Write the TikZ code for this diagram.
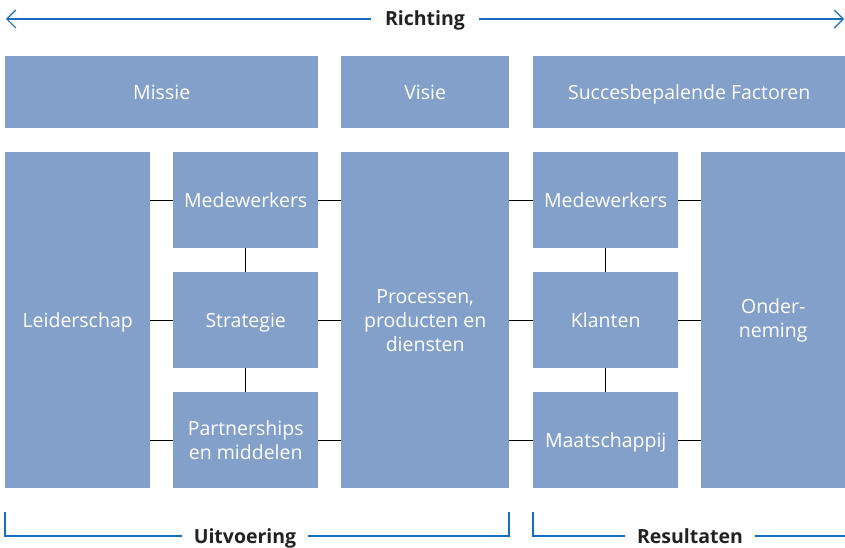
\documentclass[tikz,border=0pt]{standalone}
\usepackage{fontspec}
\setmainfont{Open Sans}
\usetikzlibrary{arrows.meta}
\definecolor{boxblue}{RGB}{130,160,202}
\definecolor{lineblue}{RGB}{24,110,190}
\definecolor{labelgray}{RGB}{34,34,34}
\begin{document}
\begin{tikzpicture}[x=1pt,y=-1pt,
  box/.style={fill=boxblue, text=white, align=center, anchor=north west,
    inner sep=0pt, font=\fontsize{19.5}{24}\selectfont},
  oneline/.style={text height=14pt, text depth=0pt},
  link/.style={draw=black, line width=0.9pt},
  guide/.style={draw=lineblue, line width=1.2pt},
  heading/.style={text=labelgray, font=\bfseries\fontsize{19.5}{22}\selectfont,
    inner sep=0pt, text height=14pt, text depth=0pt}]
\useasboundingbox (0,0) rectangle (845,548);

% top row
\node[box, oneline, minimum width=313pt, minimum height=72pt] (missie) at (5,56) {Missie};
\node[box, oneline, minimum width=168pt, minimum height=72pt] (visie) at (341,56) {Visie};
\node[box, oneline, minimum width=312pt, minimum height=72pt] (sbf) at (533,56) {Succesbepalende Factoren};

% main blocks
\node[box, oneline, minimum width=145pt, minimum height=336pt] (lead) at (5,152) {Leiderschap};
\node[box, oneline, minimum width=145pt, minimum height=96pt] (medl) at (173,152) {Medewerkers};
\node[box, oneline, minimum width=145pt, minimum height=96pt] (strat) at (173,272) {Strategie};
\node[box, minimum width=145pt, minimum height=96pt] (part) at (173,392) {Partnerships\\en middelen};
\node[box, minimum width=168pt, minimum height=336pt] (proc) at (341,152) {Processen,\\producten en\\diensten};
\node[box, oneline, minimum width=145pt, minimum height=96pt] (medr) at (533,152) {Medewerkers};
\node[box, oneline, minimum width=145pt, minimum height=96pt] (klant) at (533,272) {Klanten};
\node[box, oneline, minimum width=145pt, minimum height=96pt] (maat) at (533,392) {Maatschappij};
\node[box, minimum width=144pt, minimum height=336pt] (ond) at (701,152) {Onder-\\neming};

% horizontal links
\foreach \b in {medl, strat, part}{
  \draw[link] (\b.west -| lead.east) -- (\b.west);
  \draw[link] (\b.east) -- (\b.east -| proc.west);
}
\foreach \b in {medr, klant, maat}{
  \draw[link] (\b.west -| proc.east) -- (\b.west);
  \draw[link] (\b.east) -- (\b.east -| ond.west);
}
% vertical links
\draw[link] (medl.south) -- (strat.north);
\draw[link] (strat.south) -- (part.north);
\draw[link] (medr.south) -- (klant.north);
\draw[link] (klant.south) -- (maat.north);

% Richting arrow
\node[heading] (richting) at (425,19) {Richting};
\coordinate (rl) at (6,19);
\coordinate (rr) at (844,19);
\draw[guide, arrows={Straight Barb[length=9pt, width=18pt, line width=1.2pt]-}] (rl) -- ([xshift=-14pt]richting.west);
\draw[guide, arrows={-Straight Barb[length=9pt, width=18pt, line width=1.2pt]}] ([xshift=14pt]richting.east) -- (rr);

% Uitvoering bracket
\node[heading] (uitv) at (245,536) {Uitvoering};
\coordinate (ul) at (5,512);
\coordinate (ur) at (509,512);
\draw[guide] (ul) |- ([xshift=-12pt]uitv.west);
\draw[guide] ([xshift=12pt]uitv.east) -| (ur);

% Resultaten bracket
\node[heading] (res) at (690,536) {Resultaten};
\coordinate (rsl) at (533,512);
\coordinate (rsr) at (845,536);
\draw[guide] (rsl) |- ([xshift=-12pt]res.west);
\draw[guide] ([xshift=12pt]res.east) -- (rsr);
\end{tikzpicture}
\end{document}
